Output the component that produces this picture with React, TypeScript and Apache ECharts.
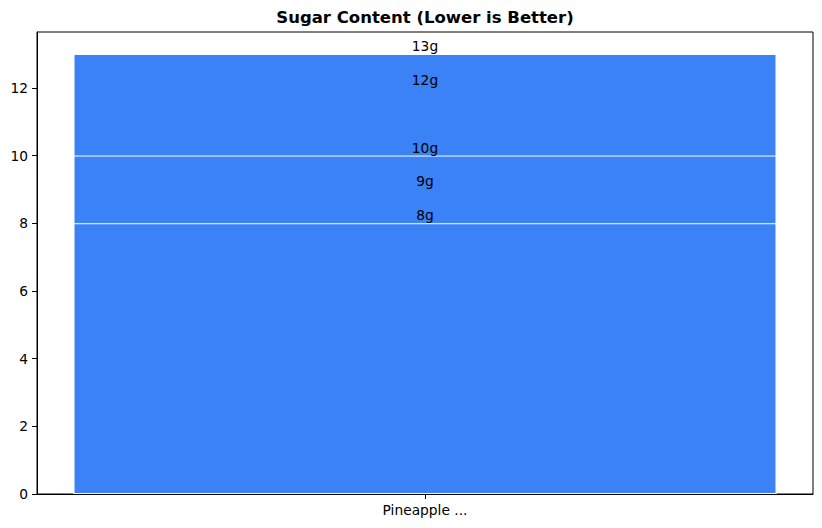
import React, { useEffect, useRef } from "react";
import * as echarts from "echarts";

const categories = ["Pineapple ..."];
// Sugar values (grams), in drawing order (later ones drawn on top)
const sugarValues = [12, 9, 13, 10, 8];
const yTicks = [0, 2, 4, 6, 8, 10, 12];
const yMax = 13.65;
const title = "Sugar Content (Lower is Better)";

const FONT = "DejaVu Sans";

export default function App() {
  const ref = useRef<HTMLDivElement>(null);
  useEffect(() => {
    if (!ref.current) return;
    const chart = echarts.init(ref.current, undefined, { renderer: "svg" });
    const series = sugarValues.map((v, i) => ({
      type: "bar",
      name: "s" + i,
      data: [v],
      barWidth: 703,
      barGap: "-100%",
      itemStyle: { color: "#3B82F6", borderColor: "#ffffff", borderWidth: 1 },
      label: {
        show: true,
        position: "top",
        distance: 1,
        formatter: (p: any) => p.value + "g",
        color: "#000",
        fontSize: 13.8,
        fontFamily: FONT,
      },
      emphasis: { disabled: true },
    }));
    chart.setOption({
      animation: false,
      backgroundColor: "#ffffff",
      title: {
        text: title,
        left: 425,
        textAlign: "center",
        top: 9,
        padding: 0,
        textStyle: { fontFamily: FONT, fontSize: 16.5, fontWeight: "bold", color: "#000" },
      },
      grid: {
        left: 37,
        right: 9,
        top: 32,
        bottom: 34,
        show: true,
        borderColor: "#000",
        borderWidth: 1,
        backgroundColor: "transparent",
      },
      xAxis: {
        type: "category",
        data: categories,
        axisLine: { show: true, lineStyle: { color: "#000", width: 1 } },
        axisTick: { show: true, alignWithLabel: true, length: 5, lineStyle: { color: "#000" } },
        axisLabel: { color: "#000", fontSize: 13.8, fontFamily: FONT, margin: 9 },
        splitLine: { show: false },
      },
      yAxis: {
        type: "value",
        min: yTicks[0],
        max: yMax,
        interval: 2,
        axisLine: { show: true, lineStyle: { color: "#000", width: 1 } },
        axisTick: { show: true, length: 5, lineStyle: { color: "#000" } },
        axisLabel: {
          color: "#000",
          fontSize: 13.8,
          fontFamily: FONT,
          margin: 9,
          showMaxLabel: false,
          formatter: (v: number) => (yTicks.includes(v) ? String(v) : ""),
        },
        splitLine: { show: false },
      },
      series,
    });
    return () => chart.dispose();
  }, []);
  return (
    <div
      ref={ref}
      style={{ position: "absolute", left: 0, top: 0, width: 822, height: 528 }}
    />
  );
}
